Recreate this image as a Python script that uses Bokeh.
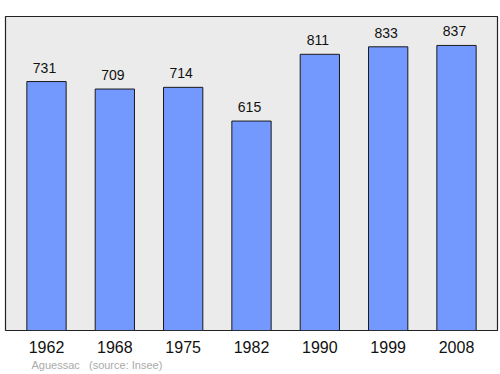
from bokeh.plotting import figure
from bokeh.models import Range1d, FixedTicker, Title, ColumnDataSource
from bokeh.core.properties import value
from bokeh.embed import file_html
from bokeh.resources import INLINE

years = ["1962", "1968", "1975", "1982", "1990", "1999", "2008"]
population = [731, 709, 714, 615, 811, 833, 837]
place = "Aguessac"
source_note = "(source: Insee)"

idx = list(range(len(years)))
src = ColumnDataSource(dict(x=idx, top=population, lab=[str(v) for v in population]))

p = figure(width=500, height=374, output_backend="svg", toolbar_location=None,
           x_range=Range1d(-0.6, len(years) - 0.4), y_range=Range1d(0, 922),
           min_border_left=5, min_border_right=3, min_border_top=16, min_border_bottom=44)
p.background_fill_color = "#ebebeb"
p.border_fill_color = "white"
p.outline_line_color = "#222222"
p.outline_line_width = 1.2
p.grid.visible = False
p.yaxis.visible = False

p.vbar(x="x", top="top", bottom=0, width=0.575, source=src,
       fill_color="#7399ff", line_color="#1a1a1a", line_width=1)
p.text(x="x", y="top", text="lab", source=src, y_offset=-9, x_offset=-2,
       text_align="center", text_baseline="bottom",
       text_font=value("Liberation Sans"), text_font_size="14px", text_color="#111111")

ax = p.xaxis[0]
ax.ticker = FixedTicker(ticks=idx)
ax.major_label_overrides = {i: y for i, y in zip(idx, years)}
ax.axis_line_color = None
ax.major_tick_line_color = None
ax.minor_tick_line_color = None
ax.major_tick_out = 0
ax.major_label_standoff = 10
ax.major_label_text_font = "Liberation Sans"
ax.major_label_text_font_size = "16px"
ax.major_label_text_color = "#111111"

footer = place + "\u00a0\u00a0\u00a0" + source_note
p.add_layout(Title(text=footer, align="left", offset=26, standoff=3,
                   text_font="Liberation Sans", text_font_size="11px",
                   text_font_style="normal", text_color="#aaaaaa"), "below")

open("out.html", "w").write(file_html(p, INLINE))
